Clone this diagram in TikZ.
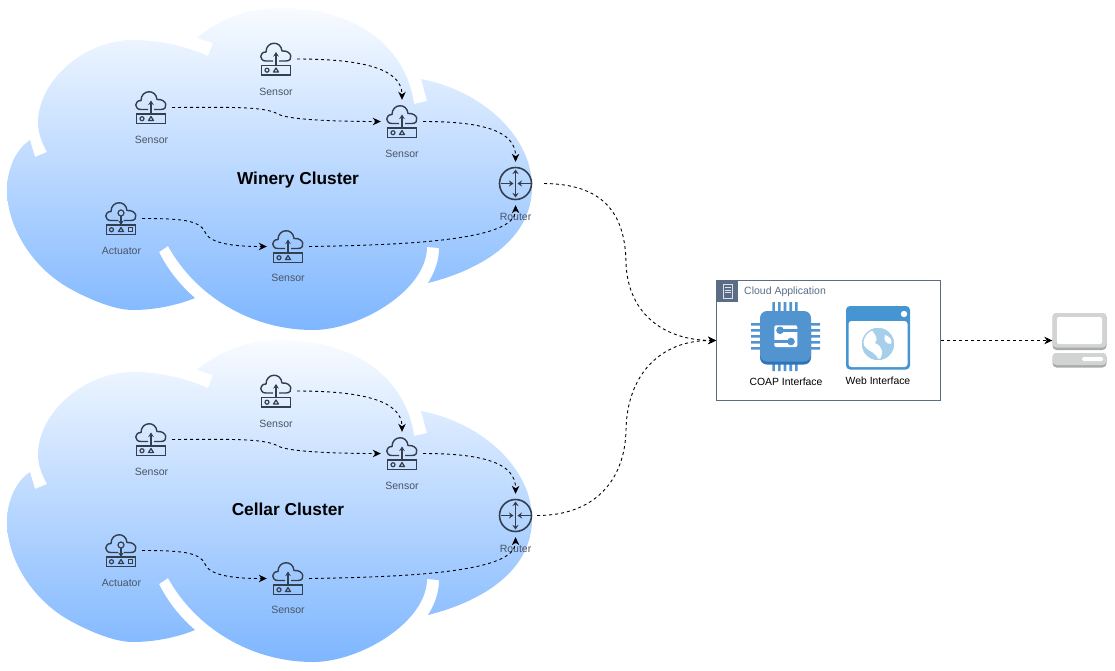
\documentclass[tikz,border=0pt]{standalone}
\usepackage{fontspec}
\setmainfont{Liberation Sans}
\usepackage{xcolor}
\usetikzlibrary{arrows.meta, positioning}

\definecolor{icondark}{HTML}{333E4E}
\definecolor{labelgrey}{HTML}{4A5565}
\definecolor{groupslate}{HTML}{5A6C86}
\definecolor{cloudtop}{HTML}{F8FBFF}
\definecolor{cloudlow}{HTML}{7EB6FF}
\definecolor{chipblue}{HTML}{5294CF}
\definecolor{chipdark}{HTML}{2E73B8}
\definecolor{webblue}{HTML}{4495D1}
\definecolor{globeblue}{HTML}{A5CFEA}
\definecolor{pcgrey}{HTML}{D2D4D3}
\definecolor{pcdark}{HTML}{A9ABAA}

\tikzstyle{link} = [line width=0.9pt, dash pattern=on 3pt off 3pt, -{Stealth[length=8pt,width=7.5pt,inset=2.5pt]}]
\tikzstyle{devbox} = [minimum width=42pt, minimum height=43pt, inner sep=0pt]
\tikzstyle{devlabel} = [text=labelgrey, font=\fontsize{10.5}{13}\selectfont, inner sep=0pt]
\tikzstyle{applabel} = [text=black, font=\fontsize{10.4}{13}\selectfont, inner sep=0pt]
\tikzstyle{title} = [text=black, font=\fontsize{17.3}{21}\selectfont\bfseries, inner sep=0pt, anchor=base]

\newcommand{\cloudoutline}{
    (208,56) .. controls (185,46) and (160,40) .. (133,40)
    .. controls (85,40) and (38,80) .. (38,123)
    .. controls (38,133) and (42,143) .. (47,152)
    -- (35,157) -- (30,140)
    .. controls (15,150) and (7,170) .. (7,190)
    .. controls (7,225) and (30,265) .. (67,287)
    .. controls (90,300) and (115,310) .. (133,310)
    .. controls (155,310) and (178,305) .. (195,298)
    .. controls (180,285) and (168,270) .. (159,252)
    -- (168,246)
    .. controls (195,295) and (250,330) .. (313,330)
    .. controls (360,330) and (427,290) .. (427,247)
    -- (439,248)
    .. controls (439,260) and (435,272) .. (428,283)
    .. controls (480,270) and (532,240) .. (532,187)
    .. controls (532,135) and (480,90) .. (421,79)
    -- (427,101) -- (414,104)
    .. controls (408,55) and (365,8) .. (280,8)
    .. controls (245,8) and (215,22) .. (197,38)
    -- (213,43) -- cycle
}

\tikzset{
    cloudglyph/.pic={
        \draw[icondark, line width=1.4pt, line join=round]
            (-3,2) -- (-10,2) .. controls (-17,2) and (-17,-7) .. (-10,-7)
            .. controls (-10,-18) and (5,-19) .. (6,-8)
            .. controls (16,-9) and (18,2) .. (10,2) -- (3,2);
    },
    sensoricon/.pic={
        \pic {cloudglyph};
        \draw[icondark, line width=1.4pt, fill=none] (-14.5,6.5) rectangle (14.5,16);
        \draw[icondark, line width=1.2pt] (-9,11.2) circle (2);
        \draw[icondark, line width=1.2pt, line join=round] (-2.5,13) -- (0,9) -- (2.5,13) -- cycle;
        \draw[icondark, line width=1.4pt, -{Stealth[length=4.5pt,width=5.5pt]}] (0,6.5) -- (0,-7);
    },
    actuatoricon/.pic={
        \pic {cloudglyph};
        \draw[icondark, line width=1.4pt, fill=none] (-14.5,6.5) rectangle (14.5,16);
        \draw[icondark, line width=1.2pt] (-9.5,11.2) circle (2);
        \draw[icondark, line width=1.2pt, line join=round] (-2.5,13) -- (0,9) -- (2.5,13) -- cycle;
        \draw[icondark, line width=1.2pt] (7.5,9.2) rectangle (11.5,13.2);
        \draw[icondark, line width=1.2pt] (0,-5.5) circle (3);
        \draw[icondark, line width=1.4pt, -{Stealth[length=4.5pt,width=5.5pt]}] (0,-2.5) -- (0,6.5);
    },
    routericon/.pic={
        \draw[icondark, line width=1.6pt] (0,0) circle (16);
        \draw[icondark, line width=1.4pt, -{Stealth[length=4.5pt,width=6pt]}] (-15,0) -- (-2,0);
        \draw[icondark, line width=1.4pt, -{Stealth[length=4.5pt,width=6pt]}] (15,0) -- (2,0);
        \draw[icondark, line width=1.4pt, {Stealth[length=4.5pt,width=6pt]}-{Stealth[length=4.5pt,width=6pt]}] (0,-14) -- (0,14);
    }
}

\begin{document}
\begin{tikzpicture}[x=1pt, y=-1pt]
    \useasboundingbox (0,0) rectangle (1115,670);

    % Winery cluster
    \begin{scope}
        \shade[top color=cloudtop, bottom color=cloudlow] \cloudoutline;

        \node[devbox] (wSensorTop) at (276,59) {};
        \node[devbox] (wSensorLeft) at (151,107.5) {};
        \node[devbox] (wSensorMid) at (402,121.5) {};
        \node[devbox] (wActuator) at (121,218.5) {};
        \node[devbox] (wSensorLow) at (288,246.5) {};
        \node[minimum size=43pt, inner sep=0pt] (wRouter) at (515.5,183.5) {};
        \coordinate (wRouterOut) at (544,183.5);

        \pic at (wSensorTop) {sensoricon};
        \pic at (wSensorLeft) {sensoricon};
        \pic at (wSensorMid) {sensoricon};
        \pic at (wActuator) {actuatoricon};
        \pic at (wSensorLow) {sensoricon};
        \pic at (wRouter) {routericon};

        % Labels
        \node[devlabel] (wTopText) at (276,91.5) {Sensor};
        \node[devlabel] (wLeftText) at (151.5,139.5) {Sensor};
        \node[devlabel] (wMidText) at (402,153.5) {Sensor};
        \node[devlabel] (wActText) at (121.5,250.5) {Actuator};
        \node[devlabel] (wLowText) at (288,278) {Sensor};
        \node[devlabel] (wRouterText) at (515.5,216.5) {Router};
        \node[title] (wTitle) at (298,184.5) {Winery Cluster};

        % Links
        \draw[link] (wSensorTop.east) .. controls (360,59) and (402,68) .. (wSensorMid.north);
        \draw[link] (wSensorLeft.east) .. controls (240,107) and (265,107) .. (278,114) .. controls (288,120) and (340,121.5) .. (wSensorMid.west);
        \draw[link] (wSensorMid.east) .. controls (480,121.5) and (516,130) .. (wRouter.north);
        \draw[link] (wActuator.east) .. controls (180,218.5) and (200,220) .. (205,232) .. controls (210,245) and (240,246.5) .. (wSensorLow.west);
        \draw[link] (wSensorLow.east) .. controls (410,245) and (516,240) .. (wRouter.south);
    \end{scope}

    % Cellar cluster
    \begin{scope}[yshift=-332pt]
        \shade[top color=cloudtop, bottom color=cloudlow] \cloudoutline;

        \node[devbox] (cSensorTop) at (276,59) {};
        \node[devbox] (cSensorLeft) at (151,107.5) {};
        \node[devbox] (cSensorMid) at (402,121.5) {};
        \node[devbox] (cActuator) at (121,218.5) {};
        \node[devbox] (cSensorLow) at (288,246.5) {};
        \node[minimum size=43pt, inner sep=0pt] (cRouter) at (515.5,183.5) {};

        \pic at (cSensorTop) {sensoricon};
        \pic at (cSensorLeft) {sensoricon};
        \pic at (cSensorMid) {sensoricon};
        \pic at (cActuator) {actuatoricon};
        \pic at (cSensorLow) {sensoricon};
        \pic at (cRouter) {routericon};

        % Labels
        \node[devlabel] (cTopText) at (276,91.5) {Sensor};
        \node[devlabel] (cLeftText) at (151.5,139.5) {Sensor};
        \node[devlabel] (cMidText) at (402,153.5) {Sensor};
        \node[devlabel] (cActText) at (121.5,250.5) {Actuator};
        \node[devlabel] (cLowText) at (288,278) {Sensor};
        \node[devlabel] (cRouterText) at (515.5,216.5) {Router};
        \node[title] (cTitle) at (288,183.5) {Cellar Cluster};

        % Links
        \draw[link] (cSensorTop.east) .. controls (360,59) and (402,68) .. (cSensorMid.north);
        \draw[link] (cSensorLeft.east) .. controls (240,107) and (265,107) .. (278,114) .. controls (288,120) and (340,121.5) .. (cSensorMid.west);
        \draw[link] (cSensorMid.east) .. controls (480,121.5) and (516,130) .. (cRouter.north);
        \draw[link] (cActuator.east) .. controls (180,218.5) and (200,220) .. (205,232) .. controls (210,245) and (240,246.5) .. (cSensorLow.west);
        \draw[link] (cSensorLow.east) .. controls (410,245) and (516,240) .. (cRouter.south);
    \end{scope}

    % Cloud application
    \node[draw=groupslate, line width=0.8pt, minimum width=224pt, minimum height=120pt, inner sep=0pt] (cloudApp) at (828.5,340.5) {};
    \fill[groupslate] (716.5,280.5) rectangle (738,302);
    \draw[white!80!groupslate, line width=0.8pt] (723,284.5) rectangle (732,298.5);
    \draw[white!80!groupslate, line width=0.8pt] (724.5,287.5) -- (730.5,287.5) (724.5,290) -- (730.5,290) (724.5,292.5) -- (730.5,292.5);
    \node[text=groupslate, font=\fontsize{10.5}{13}\selectfont, inner sep=0pt, anchor=west] (cloudAppText) at (744,292) {Cloud Application};

    % Chip
    \fill[chipblue] (772.3,302) rectangle (774.9,311) (778,302) rectangle (780.6,311) (783.7,302) rectangle (786.3,311) (789.4,302) rectangle (792,311) (795.1,302) rectangle (797.7,311);
    \fill[chipblue] (772.3,362) rectangle (774.9,371) (778,362) rectangle (780.6,371) (783.7,362) rectangle (786.3,371) (789.4,362) rectangle (792,371) (795.1,362) rectangle (797.7,371);
    \fill[chipblue] (751,323) rectangle (760,325.6) (751,329) rectangle (760,331.6) (751,335) rectangle (760,337.6) (751,341) rectangle (760,343.6) (751,347) rectangle (760,349.6);
    \fill[chipblue] (811,323) rectangle (820,325.6) (811,329) rectangle (820,331.6) (811,335) rectangle (820,337.6) (811,341) rectangle (820,343.6) (811,347) rectangle (820,349.6);
    \fill[chipdark, rounded corners=7pt] (760,320) rectangle (811,364.5);
    \node[fill=chipblue, rounded corners=7pt, minimum width=51pt, minimum height=50.5pt, inner sep=0pt] (coapChip) at (785.5,336.25) {};
    \fill[white, rounded corners=2pt] (774.3,325.3) rectangle (797.3,347);
    \draw[chipblue, line width=2.6pt] (780,330.3) -- (797.8,330.3);
    \draw[chipblue, line width=2.6pt] (773.8,341.5) -- (791,341.5);
    \fill[chipblue] (780,330.3) circle (3.8) (791,341.5) circle (3.8);
    \node[applabel] (coapText) at (786,382) {COAP Interface};

    % Web window
    \node[fill=webblue, rounded corners=4pt, minimum width=64pt, minimum height=63.5pt, inner sep=0pt] (webWindow) at (878,337.75) {};
    \fill[white, rounded corners=3pt] (848.5,321) rectangle (907.5,367);
    \fill[white] (904,314) circle (3.2);
    \begin{scope}
        \clip (878,344) circle (16);
        \fill[globeblue] (878,344) circle (16);
        \fill[white] (871,329) .. controls (875,335) and (879,338) .. (875,343) .. controls (881,345) and (885,352) .. (879,361) .. controls (876,352) and (870,352) .. (866,348) .. controls (860,342) and (865,332) .. (871,329) -- cycle;
        \fill[white] (885,335) .. controls (889,336) and (893,340) .. (891,344) .. controls (886,344) and (883,340) .. (885,335) -- cycle;
    \end{scope}
    \draw[globeblue, line width=1.3pt] (878,344) circle (15.4);
    \node[applabel] (webText) at (878,381) {Web Interface};

    % Laptop
    \node[fill=pcdark, rounded corners=4pt, minimum width=54pt, minimum height=37pt, inner sep=0pt] (pcScreen) at (1079.5,331.5) {};
    \fill[pcgrey, rounded corners=4pt] (1052.5,313) rectangle (1106.5,347.5);
    \fill[white, rounded corners=2pt] (1057,317) rectangle (1102,344);
    \fill[pcdark, rounded corners=4pt] (1052.5,353) rectangle (1106.5,367.5);
    \fill[pcgrey, rounded corners=4pt] (1052.5,353) rectangle (1106.5,365);
    \fill[white, rounded corners=1.5pt] (1082,357) rectangle (1103,361);

    % Links to the application
    \draw[link] (wRouterOut) .. controls (600,184) and (625,210) .. (626,262) .. controls (627,310) and (660,340) .. (cloudApp.west);
    \draw[link] (cRouter.east) .. controls (595,515.5) and (625,480) .. (626,430) .. controls (627,375) and (660,340) .. (cloudApp.west);
    \draw[link] (cloudApp.east) -- (pcScreen.west |- cloudApp.east);
\end{tikzpicture}
\end{document}
